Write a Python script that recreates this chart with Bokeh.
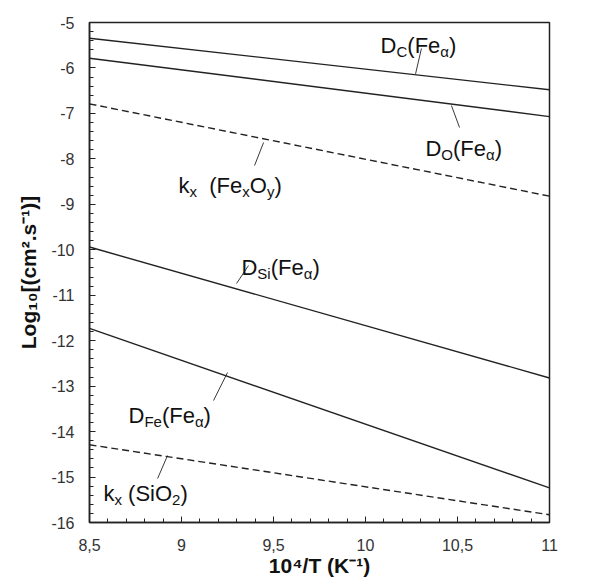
import numpy as np
from bokeh.plotting import figure
from bokeh.models import Range1d, FixedTicker
from bokeh.core.properties import value
from bokeh.embed import file_html
from bokeh.resources import INLINE

FONT = "Liberation Sans"

# ---- data (line end points) ----
x_ends = [8.5, 11.0]
d_c = [-5.345, -6.48]
d_o = [-5.785, -7.07]
kx_fexoy = [-6.79, -8.82]
d_si = [-9.94, -12.82]
d_fe = [-11.73, -15.24]
kx_sio2 = [-14.29, -15.83]

x_ticks = [8.5, 9.0, 9.5, 10.0, 10.5, 11.0]
x_tick_labels = ["8,5", "9", "9,5", "10", "10,5", "11"]
y_ticks = [-16, -15, -14, -13, -12, -11, -10, -9, -8, -7, -6, -5]
y_tick_labels = [str(v) for v in y_ticks]

# labels: anchor (data coords), segments (text, is_subscript)
label_x = [10.082, 10.326, 8.984, 9.326, 8.712, 8.576]
label_y = [-5.506, -7.772, -8.586, -10.39, -13.647, -15.363]
label_segments = [
    [("D", 0), ("C", 1), ("(Fe", 0), ("α", 1), (")", 0)],
    [("D", 0), ("O", 1), ("(Fe", 0), ("α", 1), (")", 0)],
    [("k", 0), ("x", 1), ("  ", 0), ("(Fe", 0), ("x", 1), ("O", 0), ("y", 1), (")", 0)],
    [("D", 0), ("Si", 1), ("(Fe", 0), ("α", 1), (")", 0)],
    [("D", 0), ("Fe", 1), ("(Fe", 0), ("α", 1), (")", 0)],
    [("k", 0), ("x", 1), (" ", 0), ("(SiO", 0), ("2", 1), (")", 0)],
]
# leader lines
lead_x0 = [10.272, 10.467, 9.446, 9.299, 9.250, 8.924]
lead_y0 = [-6.13, -6.826, -7.640, -10.743, -12.701, -14.527]
lead_x1 = [10.304, 10.511, 9.397, 9.364, 9.174, 8.870]
lead_y1 = [-5.572, -7.310, -8.146, -10.347, -13.317, -15.033]

p = figure(frame_width=460, frame_height=500,
           x_range=Range1d(8.5, 11), y_range=Range1d(-16, -5),
           output_backend="svg", toolbar_location=None,
           min_border_left=89, min_border_top=22, min_border_right=30,
           min_border_bottom=53)
p.grid.visible = False
p.outline_line_color = "#222222"
p.outline_line_width = 1.5
p.background_fill_color = "white"
p.border_fill_color = "white"

line_col = "#222222"
for ys, dash in [(d_c, "solid"), (d_o, "solid"), (kx_fexoy, "7 4"),
                 (d_si, "solid"), (d_fe, "solid"), (kx_sio2, "7 4")]:
    p.line(x_ends, ys, line_color=line_col, line_width=1.4, line_dash=dash)

p.segment(x0=lead_x0, y0=lead_y0, x1=lead_x1, y1=lead_y1,
          line_color=line_col, line_width=0.9)

W = {"D": .722, "C": .722, "O": .778, "S": .667, "i": .222, "F": .611,
     "e": .556, "(": .333, ")": .333, "k": .5, "x": .5, "y": .5, " ": .278,
     "2": .556, "α": .58}

MAIN, SUB = 22, 15
for lx, ly, segs in zip(label_x, label_y, label_segments):
    off = 0.0
    for txt, sub in segs:
        size = SUB if sub else MAIN
        if txt.strip():
            p.text(x=[lx], y=[ly], text=[txt], x_offset=off,
                   y_offset=6 if sub else 0,
                   text_font=value(FONT), text_font_size=f"{size}px",
                   text_color="#111111", text_align="left",
                   text_baseline="alphabetic")
        off += sum(W.get(c, .55) for c in txt) * size

# axes
xa = p.xaxis[0]
xa.ticker = FixedTicker(ticks=x_ticks, minor_ticks=list(np.arange(8.5, 11.0001, 0.1)))
xa.major_label_overrides = {t: l for t, l in zip(x_ticks, x_tick_labels)}
ya = p.yaxis[0]
ya.ticker = FixedTicker(ticks=y_ticks, minor_ticks=list(np.arange(-16, -4.9999, 0.2)))
ya.major_label_overrides = {t: l for t, l in zip(y_ticks, y_tick_labels)}

for ax in (xa, ya):
    ax.axis_line_color = "#222222"
    ax.axis_line_width = 1.5
    ax.major_tick_in = 6
    ax.major_tick_out = 0
    ax.minor_tick_in = 4
    ax.minor_tick_out = 0
    ax.major_tick_line_color = "#222222"
    ax.minor_tick_line_color = "#222222"
    ax.major_label_text_font = FONT
    ax.major_label_text_font_size = "16px"
    ax.major_label_text_color = "#333333"
    ax.axis_label_text_font = FONT
    ax.axis_label_text_font_style = "bold"
    ax.axis_label_text_font_size = "21px"
    ax.axis_label_text_color = "#111111"

xa.axis_label = "10⁴/T (K⁻¹)"
xa.major_label_standoff = 16
xa.axis_label_standoff = 0
ya.axis_label = "Log₁₀[(cm².s⁻¹)]"
ya.major_label_standoff = 15
ya.axis_label_standoff = 8

open("out.html", "w").write(file_html(p, INLINE))
